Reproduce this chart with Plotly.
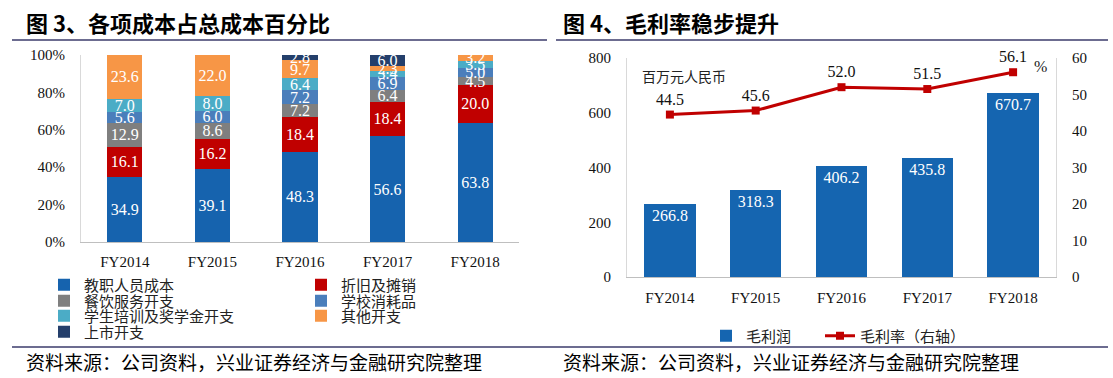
import plotly.graph_objects as go

W, H = 1113, 378

# ---------------- data ----------------
years = ["FY2014", "FY2015", "FY2016", "FY2017", "FY2018"]

cost_names = ["教职人员成本", "折旧及摊销", "餐饮服务开支", "学校消耗品",
              "学生培训及奖学金开支", "其他开支", "上市开支"]
staff_cost = [34.9, 39.1, 48.3, 56.6, 63.8]
depreciation = [16.1, 16.2, 18.4, 18.4, 20.0]
catering = [12.9, 8.6, 7.2, 6.4, 4.5]
supplies = [5.6, 6.0, 7.2, 6.9, 5.0]
training = [7.0, 8.0, 6.4, 3.4, 3.5]
other = [23.6, 22.0, 9.7, 2.3, 3.2]
listing = [None, None, 2.8, 6.0, None]

gross_profit = [266.8, 318.3, 406.2, 435.8, 670.7]
gross_margin = [44.5, 45.6, 52.0, 51.5, 56.1]

# ---------------- style ----------------
cost_colors = ["#1663AE", "#C00000", "#7F7F7F", "#4A7EBB", "#4BACC6", "#F79646", "#243F6B"]
bar_blue = "#1565B0"
line_red = "#C00000"
SERIF = "Liberation Serif, Noto Sans CJK SC"
CJK = "Noto Sans CJK SC"
rule_color = "#3B3B6B"

def px_x(p):
    return p / W

def px_y(p):
    return 1 - p / H

fig = go.Figure()

# legend assignment: rows of two (row-major like the original)
legend_rows = ["legend", "legend", "legend2", "legend2", "legend3", "legend3", "legend4"]
series = [staff_cost, depreciation, catering, supplies, training, other, listing]

for name, vals, col, lg in zip(cost_names, series, cost_colors, legend_rows):
    fig.add_trace(go.Bar(
        x=years, y=vals, name=name, marker=dict(color=col, line=dict(width=0)),
        width=0.4, xaxis="x", yaxis="y", legend=lg,
        text=[("" if v is None else f"{v:.1f}") for v in vals],
        textposition="inside", insidetextanchor="middle", textangle=0,
        textfont=dict(color="white", size=16, family=SERIF),
        hoverinfo="skip",
    ))

fig.add_trace(go.Bar(
    x=years, y=gross_profit, name="毛利润", marker=dict(color=bar_blue, line=dict(width=0)),
    width=0.6, xaxis="x2", yaxis="y2", legend="legend5",
    text=[f"{v:.1f}" for v in gross_profit],
    textposition="inside", insidetextanchor="end", textangle=0,
    textfont=dict(color="white", size=16, family=SERIF),
))

fig.add_trace(go.Scatter(
    x=years, y=gross_margin, name="毛利率（右轴）", mode="lines+markers+text",
    line=dict(color=line_red, width=3), marker=dict(symbol="square", size=8, color=line_red),
    xaxis="x2", yaxis="y3", legend="legend6",
    text=[f"{v:.1f}" for v in gross_margin], textposition="top center",
    textfont=dict(color="#111111", size=16, family=SERIF), cliponaxis=False,
))

tickfont = dict(family=SERIF, size=15, color="#111111")

legend_common = dict(orientation="h", xanchor="left", yanchor="middle", traceorder="normal",
                     bgcolor="rgba(0,0,0,0)", font=dict(family=CJK, size=15, color="#222222"),
                     entrywidthmode="pixels", itemclick=False, itemdoubleclick=False)

fig.update_layout(
    width=W, height=H, margin=dict(l=0, r=0, t=0, b=0, autoexpand=False),
    paper_bgcolor="white", plot_bgcolor="white",
    barmode="stack", showlegend=True,
    uniformtext=dict(minsize=16, mode="show"),
    xaxis=dict(domain=[px_x(81), px_x(519)], anchor="y", type="category",
               showline=True, linecolor="#BFBFBF", linewidth=1, ticks="",
               tickfont=tickfont, ticklabelstandoff=6, showgrid=False, fixedrange=True),
    yaxis=dict(domain=[px_y(242), px_y(55)], anchor="x", range=[0, 100], dtick=20,
               ticksuffix="%", showline=True, linecolor="#D9D9D9", linewidth=1,
               showgrid=False, zeroline=False, ticks="", tickfont=tickfont,
               ticklabelstandoff=12, fixedrange=True),
    xaxis2=dict(domain=[px_x(627), px_x(1056)], anchor="y2", type="category",
                showline=True, linecolor="#BFBFBF", linewidth=1, ticks="",
                tickfont=tickfont, ticklabelstandoff=7, showgrid=False, fixedrange=True),
    yaxis2=dict(domain=[px_y(277), px_y(58)], anchor="x2", range=[0, 800], dtick=200,
                showline=True, linecolor="#D9D9D9", linewidth=1, showgrid=False,
                zeroline=False, ticks="", tickfont=tickfont, ticklabelstandoff=12,
                fixedrange=True),
    yaxis3=dict(overlaying="y2", side="right", anchor="x2", range=[0, 60], dtick=10,
                showline=True, linecolor="#D9D9D9", linewidth=1, showgrid=False,
                zeroline=False, ticks="", tickfont=tickfont, ticklabelstandoff=12,
                fixedrange=True),
    legend=dict(legend_common, x=px_x(44), y=px_y(285), entrywidth=212),
    legend2=dict(legend_common, x=px_x(44), y=px_y(301), entrywidth=212),
    legend3=dict(legend_common, x=px_x(44), y=px_y(316), entrywidth=212),
    legend4=dict(legend_common, x=px_x(44), y=px_y(332), entrywidth=212),
    legend5=dict(legend_common, x=px_x(706), y=px_y(336)),
    legend6=dict(legend_common, x=px_x(820), y=px_y(336)),
)

annotations = [
    dict(text="<b>图 3、各项成本占总成本百分比</b>", x=px_x(24), y=px_y(22),
         xanchor="left", yanchor="middle", font=dict(family=CJK, size=22, color="#000000")),
    dict(text="<b>图 4、毛利率稳步提升</b>", x=px_x(561), y=px_y(22),
         xanchor="left", yanchor="middle", font=dict(family=CJK, size=22, color="#000000")),
    dict(text="资料来源：公司资料，兴业证券经济与金融研究院整理", x=px_x(24), y=px_y(361),
         xanchor="left", yanchor="middle", font=dict(family=CJK, size=19, color="#000000")),
    dict(text="资料来源：公司资料，兴业证券经济与金融研究院整理", x=px_x(561), y=px_y(361),
         xanchor="left", yanchor="middle", font=dict(family=CJK, size=19, color="#000000")),
    dict(text="百万元人民币", x=px_x(640), y=px_y(76), xanchor="left", yanchor="middle",
         font=dict(family=CJK, size=14, color="#222222")),
    dict(text="%", x=px_x(1040), y=px_y(67), xanchor="center", yanchor="middle",
         font=dict(family=SERIF, size=16, color="#222222")),
]
for a in annotations:
    a.update(xref="paper", yref="paper", showarrow=False)
fig.update_layout(annotations=annotations)

shapes = [
    dict(type="line", x0=px_x(12), x1=px_x(547), y0=px_y(40), y1=px_y(40)),
    dict(type="line", x0=px_x(556), x1=px_x(1108), y0=px_y(40), y1=px_y(40)),
    dict(type="line", x0=px_x(12), x1=px_x(1108), y0=px_y(347), y1=px_y(347)),
]
for s in shapes:
    s.update(xref="paper", yref="paper", line=dict(color=rule_color, width=1.5))
fig.update_layout(shapes=shapes)

fig.write_html(
    "out.html",
    config={"displayModeBar": False, "staticPlot": True},
    post_script="document.body.style.margin='0';document.body.style.padding='0';"
                "document.body.style.overflow='hidden';",
)
